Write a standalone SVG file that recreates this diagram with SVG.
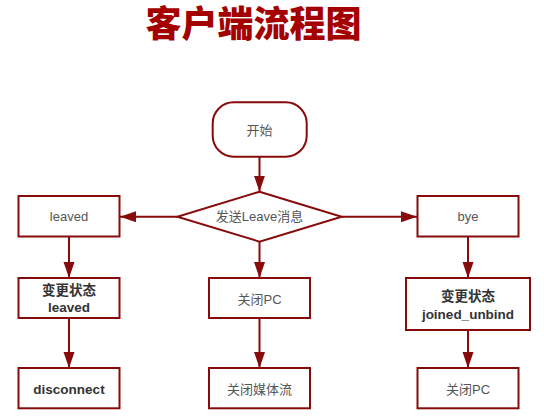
<svg xmlns="http://www.w3.org/2000/svg" width="544" height="416" viewBox="0 0 544 416">
  <style>
    .shape { fill: #ffffff; stroke: #870b0b; stroke-width: 2; }
    .edge { fill: none; stroke: #870b0b; stroke-width: 2; }
    .lbl { font-family: "Liberation Sans", "Noto Sans CJK SC", sans-serif; font-size: 13px; fill: #555555; text-anchor: middle; }
    .bold { font-family: "Liberation Sans", "Noto Sans CJK SC", sans-serif; font-size: 13.5px; font-weight: bold; fill: #333333; text-anchor: middle; }
    .title { font-family: "Noto Sans CJK SC", sans-serif; font-size: 36px; font-weight: 900; fill: #a50000; text-anchor: middle; }
  </style>
  <defs>
    <marker id="arrow" markerUnits="userSpaceOnUse" markerWidth="17" markerHeight="12" refX="16" refY="6" orient="auto">
      <path d="M0,0.5 L16,6 L0,11.5 z" fill="#870b0b"/>
    </marker>
  </defs>
  <rect width="544" height="416" fill="#ffffff"/>

  <text class="title" x="253.5" y="37">客户端流程图</text>

  <g id="connectors">
    <line class="edge" x1="259.5" y1="156.7" x2="259.5" y2="191.7" marker-end="url(#arrow)"/>
    <line class="edge" x1="177.3" y1="216.7" x2="120" y2="216.7" marker-end="url(#arrow)"/>
    <line class="edge" x1="341.7" y1="216.7" x2="417" y2="216.7" marker-end="url(#arrow)"/>
    <line class="edge" x1="69" y1="236.5" x2="69" y2="278" marker-end="url(#arrow)"/>
    <line class="edge" x1="69" y1="318" x2="69" y2="368" marker-end="url(#arrow)"/>
    <line class="edge" x1="259.5" y1="241.6" x2="259.5" y2="278" marker-end="url(#arrow)"/>
    <line class="edge" x1="259.5" y1="318" x2="259.5" y2="368" marker-end="url(#arrow)"/>
    <line class="edge" x1="468" y1="236.5" x2="468" y2="278" marker-end="url(#arrow)"/>
    <line class="edge" x1="468" y1="330" x2="468" y2="368" marker-end="url(#arrow)"/>
  </g>

  <g id="start">
    <rect class="shape" x="212.7" y="102.3" width="94" height="54.4" rx="21" ry="21"/>
    <text class="lbl" x="259.5" y="134.5">开始</text>
  </g>

  <g id="send-leave">
    <polygon class="shape" points="259.5,191.7 341.7,216.7 259.5,241.6 177.3,216.7"/>
    <text class="lbl" x="259.5" y="221.3">发送Leave消息</text>
  </g>

  <g id="leaved">
    <rect class="shape" x="18.5" y="196" width="101" height="40.5"/>
    <text class="lbl" x="69" y="221.3">leaved</text>
  </g>

  <g id="bye">
    <rect class="shape" x="417.5" y="196" width="101" height="40.5"/>
    <text class="lbl" x="468" y="221.3">bye</text>
  </g>

  <g id="change-leaved">
    <rect class="shape" x="18.5" y="278" width="101" height="40"/>
    <text class="bold" x="69" y="294.5">变更状态</text>
    <text class="bold" x="69" y="311.8">leaved</text>
  </g>

  <g id="close-pc-center">
    <rect class="shape" x="209" y="278" width="101" height="40"/>
    <text class="lbl" x="259.5" y="303.5">关闭PC</text>
  </g>

  <g id="change-joined-unbind">
    <rect class="shape" x="406" y="278" width="124" height="52"/>
    <text class="bold" x="468" y="301.3">变更状态</text>
    <text class="bold" x="468" y="318.8">joined_unbind</text>
  </g>

  <g id="disconnect">
    <rect class="shape" x="18.5" y="368" width="101" height="40.3"/>
    <text class="bold" x="69" y="394">disconnect</text>
  </g>

  <g id="close-media">
    <rect class="shape" x="209" y="368" width="101" height="40.3"/>
    <text class="lbl" x="259.5" y="393.8">关闭媒体流</text>
  </g>

  <g id="close-pc-right">
    <rect class="shape" x="417.5" y="368" width="101" height="40.3"/>
    <text class="lbl" x="468" y="394.3">关闭PC</text>
  </g>
</svg>
